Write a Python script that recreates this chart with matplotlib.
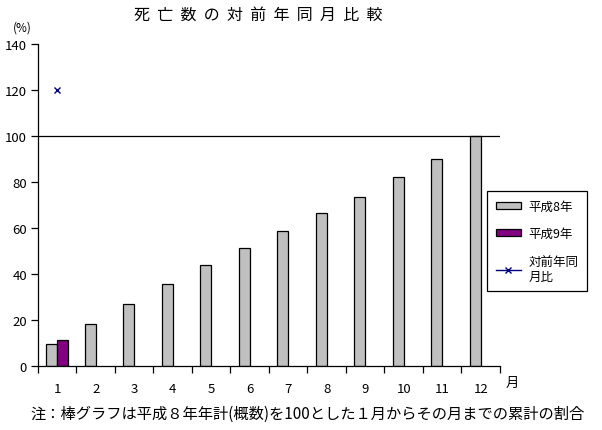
import numpy as np
import matplotlib
matplotlib.use("Agg")
import matplotlib.pyplot as plt
from matplotlib.lines import Line2D
from matplotlib.patches import Patch

plt.rcParams['font.family'] = ['Noto Sans CJK JP', 'DejaVu Sans']

months = [1, 2, 3, 4, 5, 6, 7, 8, 9, 10, 11, 12]
h8 = [9.9, 18.3, 27.0, 35.7, 43.9, 51.3, 58.7, 66.5, 73.5, 82.2, 90.0, 100.0]
h9 = [11.6]
ratio = [120.0]
yticks = [0, 20, 40, 60, 80, 100, 120, 140]

title = "死亡数の対前年同月比較"
note = "注：棒グラフは平成８年年計(概数)を100とした１月からその月までの累計の割合"

fig = plt.figure(figsize=(6.02, 4.31), dpi=100)
ax = fig.add_axes([0.0631, 0.1478, 0.7674, 0.7471])

w = 0.286
x = np.array(months, dtype=float)
ax.bar(x - w / 2, h8, width=w, color='#C0C0C0', edgecolor='black', linewidth=0.9)
ax.bar(x[:len(h9)] + w / 2, h9, width=w, color='#800080', edgecolor='black', linewidth=0.9)
ax.plot(x[:len(ratio)], ratio, color='#000080', marker='x', markersize=4, linewidth=1)
ax.axhline(100, color='black', linewidth=0.9)

ax.set_xlim(0.5, 12.5)
ax.set_ylim(0, 140)
ax.spines['top'].set_visible(False)
ax.spines['right'].set_visible(False)
for s in ('left', 'bottom'):
    ax.spines[s].set_linewidth(0.9)

ax.set_xticks(np.arange(0.5, 13, 1))
ax.set_xticklabels([])
ax.set_xticks(x, minor=True)
ax.set_xticklabels([str(m) for m in months], minor=True)
ax.tick_params(axis='x', which='major', direction='out', length=5, width=0.9)
ax.tick_params(axis='x', which='minor', length=0, pad=11, labelsize=9.5)
ax.set_yticks(yticks)
ax.tick_params(axis='y', direction='out', length=5, width=0.9, labelsize=9.5, pad=3)

fig.text(258 / 602, 1 - 15 / 431, "  ".join(title), ha='center', va='center', fontsize=11.5)
fig.text(22 / 602, 1 - 28 / 431, "(%)", ha='center', va='center', fontsize=8.5)
fig.text(512 / 602, 1 - 383 / 431, "月", ha='center', va='center', fontsize=9.5)
fig.text(30 / 602, 1 - 414 / 431, note, ha='left', va='center', fontsize=11)

handles = [
    Patch(facecolor='#C0C0C0', edgecolor='black', linewidth=0.9),
    Patch(facecolor='#800080', edgecolor='black', linewidth=0.9),
    Line2D([], [], color='#000080', marker='x', markersize=4, linewidth=1),
]
labels = ["平成8年", "平成9年", "対前年同\n月比"]
leg = fig.legend(handles, labels, loc='upper left', bbox_to_anchor=(487 / 602, 1 - 192 / 431),
                 fontsize=9, frameon=True, fancybox=False, framealpha=1, edgecolor='black',
                 handlelength=2.0, handleheight=0.5, labelspacing=1.15, borderpad=0.7,
                 handletextpad=0.6, borderaxespad=0)
leg.get_frame().set_linewidth(0.9)

fig.savefig("out.png", dpi=100)
